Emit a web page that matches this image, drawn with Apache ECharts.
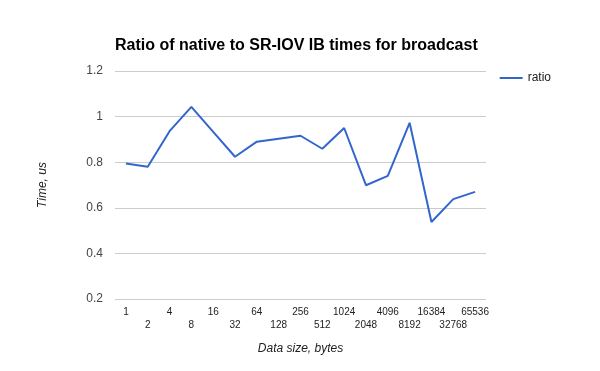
<!DOCTYPE html>
<html><head><meta charset="utf-8">
<script src="https://cdn.jsdelivr.net/npm/echarts@6/dist/echarts.min.js"></script>
<style>html,body{margin:0;padding:0;background:#fff}#c{width:600px;height:371px}</style>
</head><body><div id="c"></div>
<script>
const categories = ['1','2','4','8','16','32','64','128','256','512','1024','2048','4096','8192','16384','32768','65536'];
const ratio = [0.794,0.780,0.936,1.043,0.933,0.824,0.890,0.903,0.916,0.859,0.950,0.699,0.740,0.973,0.538,0.638,0.670];
const chart = echarts.init(document.getElementById('c'));
chart.setOption({
  animation:false,
  title:{text:'Ratio of native to SR-IOV IB times for broadcast',left:115,top:38,padding:0,
    textStyle:{fontFamily:'Arial, Liberation Sans',fontSize:16,fontWeight:'bold',color:'#000'}},
  legend:{right:44,top:67,itemWidth:23,itemHeight:2,itemGap:5,icon:'rect',
    textStyle:{fontFamily:'Arial, Liberation Sans',fontSize:12,color:'#222'},data:['ratio']},
  grid:{left:115,right:114,top:71,bottom:72},
  xAxis:{type:'category',data:categories,boundaryGap:true,
    name:'Data size, bytes',nameLocation:'middle',nameGap:44,
    nameTextStyle:{fontFamily:'Arial, Liberation Sans',fontSize:12,fontStyle:'italic',color:'#222'},
    axisLine:{show:false},axisTick:{show:false},
    axisLabel:{interval:0,margin:7,fontFamily:'Arial, Liberation Sans',fontSize:10,color:'#222',lineHeight:13,
      formatter:(v,i)=> i%2===1 ? '\n'+v : v}},
  yAxis:{type:'value',min:0.2,max:1.2,interval:0.2,
    name:'Time, us',nameLocation:'middle',nameGap:66,
    nameTextStyle:{fontFamily:'Arial, Liberation Sans',fontSize:12,fontStyle:'italic',color:'#222'},
    axisLine:{show:false},axisTick:{show:false},
    axisLabel:{margin:12,fontFamily:'Arial, Liberation Sans',fontSize:12,color:'#444',padding:[4,0,0,0],
      formatter:v=>String(Math.round(v*10)/10)},
    splitLine:{lineStyle:{color:'#ccc'}}},
  series:[{name:'ratio',type:'line',data:ratio,symbol:'none',
    lineStyle:{color:'#3366cc',width:2},itemStyle:{color:'#3366cc'}}]
});
</script></body></html>
